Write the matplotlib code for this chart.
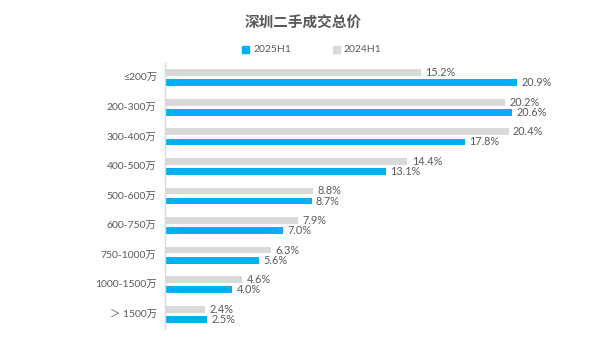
import matplotlib
matplotlib.use("Agg")
import matplotlib.pyplot as plt
from matplotlib.patches import Rectangle
import numpy as np

plt.rcParams['font.family'] = ['Lato', 'Noto Sans CJK SC', 'DejaVu Sans']

categories = ["≤200万", "200-300万", "300-400万", "400-500万", "500-600万",
              "600-750万", "750-1000万", "1000-1500万", "＞ 1500万"]
s2025 = [20.9, 20.6, 17.8, 13.1, 8.7, 7.0, 5.6, 4.0, 2.5]
s2024 = [15.2, 20.2, 20.4, 14.4, 8.8, 7.9, 6.3, 4.6, 2.4]
series_names = ["2025H1", "2024H1"]

BLUE = "#00B0F0"
GREY = "#D9D9D9"
TXT = "#595959"

fig = plt.figure(figsize=(6.06, 3.41), dpi=100)
ax = fig.add_axes([165/606, 1-329/341, 425/606, 266/341])

y = np.arange(len(categories))
h = 0.23
off = 0.17
ax.barh(y - off, s2024, height=h, color=GREY)
ax.barh(y + off, s2025, height=h, color=BLUE)

for yi, v in zip(y, s2024):
    ax.text(v + 0.25, yi - off, f"{v:.1f}%", va="center", ha="left", fontsize=7.8, color=TXT)
for yi, v in zip(y, s2025):
    ax.text(v + 0.25, yi + off, f"{v:.1f}%", va="center", ha="left", fontsize=7.8, color=TXT)

ax.set_xlim(0, 425/16.84)
ax.set_ylim(len(categories) - 0.5, -0.5)
ax.set_yticks(y)
ax.set_yticklabels(categories, fontsize=7.5, color=TXT)
ax.tick_params(axis='y', length=0, pad=6)
ax.set_xticks([])
for s in ["top", "right", "bottom"]:
    ax.spines[s].set_visible(False)
ax.spines["left"].set_color("#D9D9D9")
ax.spines["left"].set_linewidth(1)

fig.text(0.5, 1-24/341, "深圳二手成交总价", ha="center", va="center",
         fontsize=10.5, fontweight="bold", color=TXT)

# legend
fig.patches.append(Rectangle((242/606, 1-52.5/341), 7/606, 7/341, transform=fig.transFigure, color=BLUE))
fig.text(253/606, 1-49/341, series_names[0], ha="left", va="center", fontsize=7.5, color=TXT)
fig.patches.append(Rectangle((333/606, 1-52.5/341), 7/606, 7/341, transform=fig.transFigure, color=GREY))
fig.text(343/606, 1-49/341, series_names[1], ha="left", va="center", fontsize=7.5, color=TXT)

fig.savefig("out.png", dpi=100)
